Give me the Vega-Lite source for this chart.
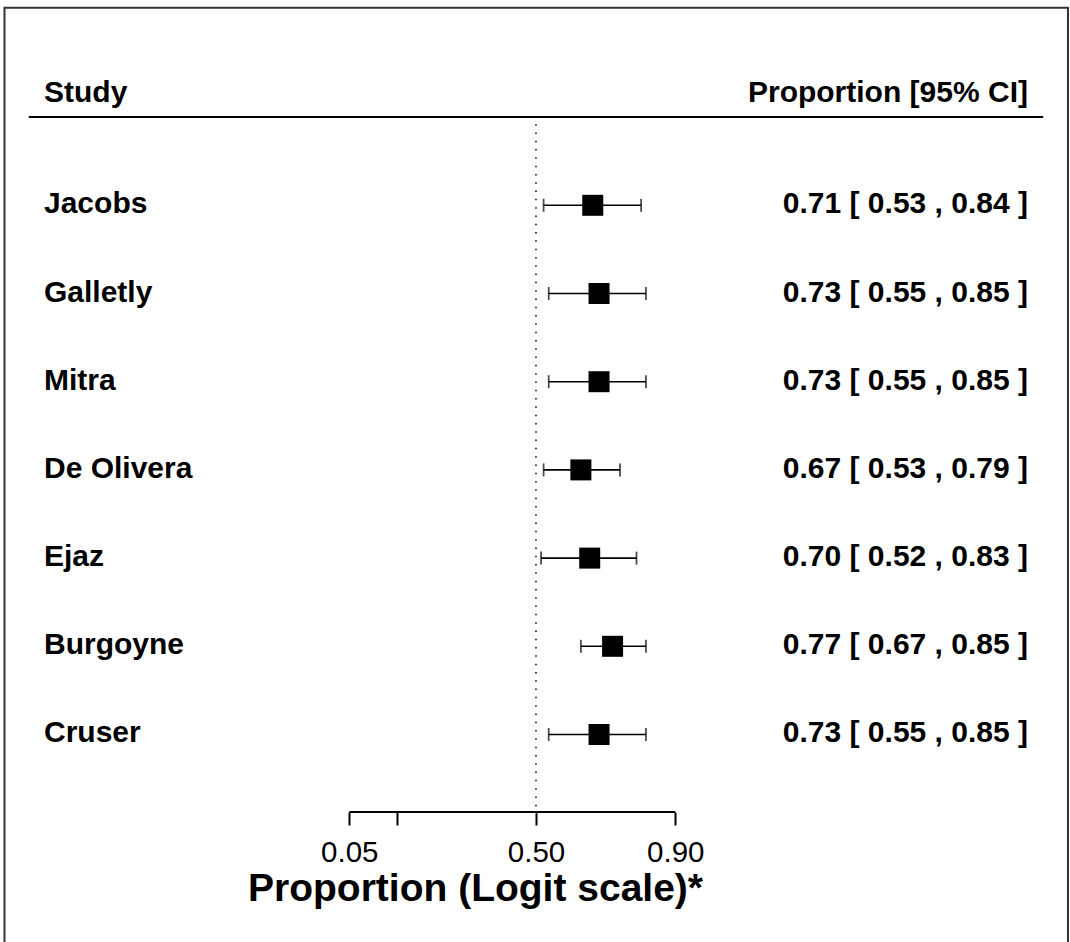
{
  "$schema": "https://vega.github.io/schema/vega-lite/v6.json",
  "width": 1070,
  "height": 812,
  "autosize": {"type": "none"},
  "padding": {"left": 0, "top": 0, "right": 0, "bottom": 130},
  "background": "white",
  "config": {"view": {"stroke": null}, "font": "Liberation Sans"},
  "data": {
    "values": [
      {"study": "Jacobs", "row": 1, "est": 0.71, "lo": 0.53, "hi": 0.84, "est_logit": 0.8954, "lo_logit": 0.1201, "hi_logit": 1.6582, "label": "0.71 [ 0.53 , 0.84 ]"},
      {"study": "Galletly", "row": 2, "est": 0.73, "lo": 0.55, "hi": 0.85, "est_logit": 0.9946, "lo_logit": 0.2007, "hi_logit": 1.7346, "label": "0.73 [ 0.55 , 0.85 ]"},
      {"study": "Mitra", "row": 3, "est": 0.73, "lo": 0.55, "hi": 0.85, "est_logit": 0.9946, "lo_logit": 0.2007, "hi_logit": 1.7346, "label": "0.73 [ 0.55 , 0.85 ]"},
      {"study": "De Olivera", "row": 4, "est": 0.67, "lo": 0.53, "hi": 0.79, "est_logit": 0.7082, "lo_logit": 0.1201, "hi_logit": 1.3249, "label": "0.67 [ 0.53 , 0.79 ]"},
      {"study": "Ejaz", "row": 5, "est": 0.70, "lo": 0.52, "hi": 0.83, "est_logit": 0.8473, "lo_logit": 0.0800, "hi_logit": 1.5856, "label": "0.70 [ 0.52 , 0.83 ]"},
      {"study": "Burgoyne", "row": 6, "est": 0.77, "lo": 0.67, "hi": 0.85, "est_logit": 1.2083, "lo_logit": 0.7082, "hi_logit": 1.7346, "label": "0.77 [ 0.67 , 0.85 ]"},
      {"study": "Cruser", "row": 7, "est": 0.73, "lo": 0.55, "hi": 0.85, "est_logit": 0.9946, "lo_logit": 0.2007, "hi_logit": 1.7346, "label": "0.73 [ 0.55 , 0.85 ]"}
    ]
  },
  "layer": [
    {
      "data": {"values": [{}]},
      "mark": {"type": "rect", "fillOpacity": 0, "stroke": "#333333", "strokeWidth": 2},
      "encoding": {
        "x": {
          "datum": -8.383,
          "type": "quantitative",
          "scale": {"domain": [-8.454, 8.423], "nice": false, "zero": false},
          "axis": {
            "values": [-2.9444, -2.1972, 0, 2.1972],
            "labelExpr": "datum.value < -2.5 ? '0.05' : datum.value < -1 ? '' : datum.value < 1 ? '0.50' : '0.90'",
            "domain": false,
            "grid": false,
            "ticks": true,
            "tickSize": 13,
            "tickWidth": 2,
            "tickColor": "black",
            "labelFont": "Liberation Sans",
            "labelFontSize": 29.5,
            "labelColor": "black",
            "labelBaseline": "alphabetic",
            "labelPadding": 36,
            "labelOverlap": false,
            "labelFlush": false,
            "title": "Proportion (Logit scale)*",
            "titleFont": "Liberation Sans",
            "titleFontSize": 39,
            "titleFontWeight": "bold",
            "titleColor": "black",
            "titleX": 475,
            "titleY": 88,
            "titleAlign": "center",
            "titleBaseline": "alphabetic"
          }
        },
        "x2": {"datum": 8.391},
        "y": {
          "datum": -1.24,
          "type": "quantitative",
          "scale": {"domain": [-1.3277, 7.8787], "nice": false, "zero": false, "reverse": true},
          "axis": null
        },
        "y2": {"datum": 10}
      }
    },
    {
      "data": {"values": [{}]},
      "mark": {"type": "rule", "color": "black", "strokeWidth": 2},
      "encoding": {
        "x": {"datum": -8.0, "type": "quantitative"},
        "x2": {"datum": 8.0},
        "y": {"datum": 0, "type": "quantitative", "axis": null}
      }
    },
    {
      "data": {"values": [{}]},
      "mark": {"type": "rule", "color": "black", "strokeWidth": 1.5, "strokeDash": [1.5, 6.8]},
      "encoding": {
        "x": {"datum": 0, "type": "quantitative"},
        "y": {"datum": 0.08, "type": "quantitative", "axis": null},
        "y2": {"datum": 7.8787}
      }
    },
    {
      "data": {"values": [{}]},
      "mark": {"type": "rule", "color": "black", "strokeWidth": 2},
      "encoding": {
        "x": {"datum": -2.9444, "type": "quantitative"},
        "x2": {"datum": 2.1972},
        "y": {"datum": 7.8787, "type": "quantitative", "axis": null}
      }
    },
    {
      "data": {"values": [{"h": "Study"}]},
      "mark": {"type": "text", "align": "left", "baseline": "alphabetic", "fontSize": 30, "fontWeight": "bold", "color": "black"},
      "encoding": {
        "x": {"datum": -7.76, "type": "quantitative"},
        "y": {"datum": -0.17, "type": "quantitative", "axis": null},
        "text": {"field": "h"}
      }
    },
    {
      "data": {"values": [{"h": "Proportion [95% CI]"}]},
      "mark": {"type": "text", "align": "right", "baseline": "alphabetic", "fontSize": 30, "fontWeight": "bold", "color": "black"},
      "encoding": {
        "x": {"datum": 7.76, "type": "quantitative"},
        "y": {"datum": -0.17, "type": "quantitative", "axis": null},
        "text": {"field": "h"}
      }
    },
    {
      "mark": {"type": "rule", "color": "black", "strokeWidth": 1.6},
      "encoding": {
        "x": {"field": "lo_logit", "type": "quantitative"},
        "x2": {"field": "hi_logit"},
        "y": {"field": "row", "type": "quantitative", "axis": null}
      }
    },
    {
      "mark": {"type": "tick", "orient": "vertical", "color": "black", "size": 13, "thickness": 1.8},
      "encoding": {
        "x": {"field": "lo_logit", "type": "quantitative"},
        "y": {"field": "row", "type": "quantitative", "axis": null}
      }
    },
    {
      "mark": {"type": "tick", "orient": "vertical", "color": "black", "size": 13, "thickness": 1.8},
      "encoding": {
        "x": {"field": "hi_logit", "type": "quantitative"},
        "y": {"field": "row", "type": "quantitative", "axis": null}
      }
    },
    {
      "mark": {"type": "point", "shape": "square", "filled": true, "color": "black", "size": 441, "opacity": 1},
      "encoding": {
        "x": {"field": "est_logit", "type": "quantitative"},
        "y": {"field": "row", "type": "quantitative", "axis": null}
      }
    },
    {
      "mark": {"type": "text", "align": "left", "baseline": "alphabetic", "dy": 8, "fontSize": 30, "fontWeight": "bold", "color": "black"},
      "encoding": {
        "x": {"datum": -7.76, "type": "quantitative"},
        "y": {"field": "row", "type": "quantitative", "axis": null},
        "text": {"field": "study"}
      }
    },
    {
      "mark": {"type": "text", "align": "right", "baseline": "alphabetic", "dy": 8, "fontSize": 30, "fontWeight": "bold", "color": "black"},
      "encoding": {
        "x": {"datum": 7.76, "type": "quantitative"},
        "y": {"field": "row", "type": "quantitative", "axis": null},
        "text": {"field": "label"}
      }
    }
  ]
}
